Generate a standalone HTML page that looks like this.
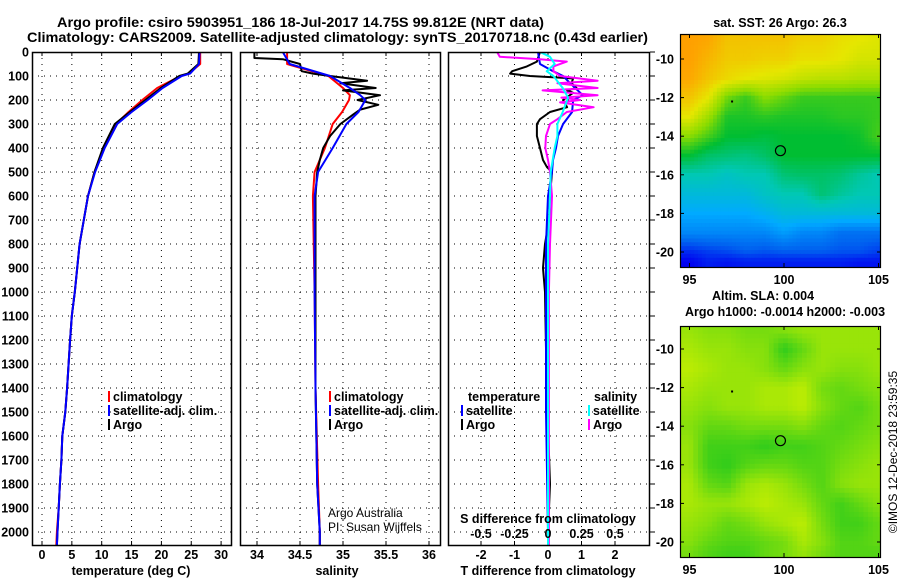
<!DOCTYPE html>
<html><head><meta charset="utf-8">
<style>
html,body{margin:0;padding:0;background:#fff;}
svg{display:block;font-family:"Liberation Sans",Arial,sans-serif;}
.b{font-weight:bold;font-size:12.5px;}
.t{font-weight:bold;font-size:13.5px;}
</style></head>
<body>
<svg id="c" width="900" height="580" viewBox="0 0 900 580" xmlns="http://www.w3.org/2000/svg">
<text class="t" x="57" y="27" textLength="487" lengthAdjust="spacingAndGlyphs">Argo profile: csiro 5903951_186 18-Jul-2017 14.75S 99.812E (NRT data)</text>
<text class="t" x="27" y="42" textLength="621" lengthAdjust="spacingAndGlyphs">Climatology: CARS2009. Satellite-adjusted climatology: synTS_20170718.nc (0.43d earlier)</text>
<g id="g"></g>
</svg>
<script>
// ---------- profile data (depth in m) ----------
const tDepth = [0,50,90,100,150,200,250,300,400,500,600,700,800,900,1000,1100,1200,1400,1500,1600,1700,1800,1900,2000,2055];
const tArgo  = [26.3,26.2,24.4,23,19.9,17.3,14.7,12.2,10.2,8.8,7.7,7.0,6.3,5.9,5.5,5.0,4.7,4.2,3.9,3.4,3.25,3.0,2.8,2.6,2.5];
const tClim  = [26.5,26.5,24.6,23.2,19.3,16.8,14.5,12.4,10.4,8.8,7.7,7.0,6.3,5.9,5.5,5.0,4.7,4.2,3.9,3.4,3.25,3.0,2.8,2.5,2.4];
const tSat   = [26.4,26.3,24.8,23.4,20.2,17.7,15.0,12.6,10.5,8.9,7.7,7.0,6.3,5.9,5.5,5.0,4.7,4.2,3.9,3.4,3.25,3.0,2.8,2.6,2.5];

const sArgoDepth = [0,25,30,50,80,90,100,120,130,150,160,180,200,220,240,260,300,350,400,450,500,600,800,1000,1400,1800,2000,2055];
const sArgo      = [33.97,33.97,34.3,34.5,34.52,34.65,34.85,35.28,34.97,35.38,35.0,35.43,35.17,35.41,35.2,35.12,34.97,34.85,34.77,34.73,34.7,34.68,34.68,34.68,34.68,34.7,34.73,34.73];
const sClimDepth = [0,50,100,150,180,200,250,300,400,500,600,1000,1400,1800,2000,2055];
const sClim      = [34.35,34.35,34.83,35.0,35.08,35.07,34.99,34.88,34.79,34.67,34.65,34.67,34.68,34.71,34.73,34.73];
const sSat       = [34.3,34.38,34.85,35.08,35.2,35.26,35.18,35.04,34.88,34.71,34.67,34.67,34.68,34.7,34.73,34.73];

const dTArgoDepth = [0,40,60,80,90,100,110,130,150,160,170,200,230,250,280,300,350,400,450,480,500,600,700,800,900,1000,1400,1800,2000,2055];
const dTArgo      = [-0.24,-0.33,-0.63,-1.07,-1.13,-0.54,0.75,0.7,0.85,0.57,0.75,0.45,0.57,0.06,-0.24,-0.33,-0.33,-0.24,-0.15,-0.03,0.12,0.06,0.03,-0.09,-0.15,-0.09,-0.04,0.06,0.0,0.0];
const dTSatDepth  = [0,50,80,100,130,180,200,250,300,350,400,450,500,600,800,1000,1500,2000,2055];
const dTSat       = [-0.3,-0.24,0.15,0.45,0.66,1.04,0.75,0.72,0.45,0.3,0.24,0.15,0.12,0.0,-0.06,-0.06,-0.06,0.0,0.0];
const dSArgoDepth = [0,20,30,40,60,80,100,120,130,150,160,180,190,200,210,230,250,280,300,350,400,450,500,600,800,1000,2055];
const dSArgo      = [-0.38,-0.36,-0.06,0.14,0.04,0.04,0.09,0.37,0.07,0.37,-0.04,0.37,0.1,0.24,0.09,0.34,0.14,0.07,0.015,-0.015,-0.02,0.0,0.015,0.03,0.015,0.007,0.007];
const dSSatDepth  = [0,20,50,80,100,150,190,250,300,350,400,500,600,800,2055];
const dSSat       = [-0.06,0.015,0.05,-0.01,0.04,0.11,0.15,0.11,0.07,0.07,0.05,0.02,0.015,0.0,0.0];

const depthTicks = [0,100,200,300,400,500,600,700,800,900,1000,1100,1200,1300,1400,1500,1600,1700,1800,1900,2000];
const tTicks = [0,5,10,15,20,25,30];
const sTicks = [34,34.5,35,35.5,36];
const dTTicks = [-2,-1,0,1,2];
const dSTicks = [-0.5,-0.25,0,0.25,0.5];
const dSTickLabels = ["-0.5","-0.25","0","0.25","0.5"];

// ---------- map data (coarse grids, lat rows -9..-20, -20.5; lon cols 95..105) ----------
const mapLats = [-9,-10,-11,-12,-13,-14,-15,-16,-17,-18,-19,-20,-20.5];
const mapLons = [95,96,97,98,99,100,101,102,103,104,105];
const sstGrid = [
[7,6.9,6.5,6.5,6.5,6.5,6.3,6.3,6.1,6,5.9],
[7,6.7,6.4,6.4,6.3,6.3,6.1,6.1,6,5.8,5.8],
[6.9,6.5,6.2,6,5.9,5.8,5.6,5.5,5.5,5.4,5.4],
[6.5,6,4.8,4.4,5,4.7,4.4,4.4,4.4,4.4,4.4],
[6,5.2,4.2,4.2,4.3,4.2,4.2,4.2,4.3,4.3,4.4],
[5,4.5,4,4,3.9,4,4,4,4,4.1,4.5],
[4,3.6,3.5,3.4,3.6,4,4,4,4,4,4],
[3,3,2.8,3,3,3.5,3.6,3.6,3.5,3.2,3],
[2.5,2.5,2.5,2.5,2.8,3,3,3.5,3.2,3,3],
[2,2,2,2,2.2,2.5,2.5,2.5,2.5,2.5,2.5],
[1.5,1.5,1.5,1.5,1.5,1.8,1.5,1.5,1.2,1.2,1.2],
[0.4,0.6,0.7,0.9,0.8,0.9,0.9,0.9,0.8,0.8,0.6],
[0,0.3,0.2,0.3,0.3,0.3,0.3,0.3,0.3,0.2,0.2]];
const slaGrid = [
[0.3,0.4,0.4,0.5,0.5,0.4,0.3,0.3,0.3,0.3,0.3],
[0.2,0.3,0.3,0.4,0.4,0.9,0.6,0.3,0.3,0.3,0.3],
[0.1,0.2,0.3,0.3,0.4,0.6,0.4,0.3,0.4,0.4,0.3],
[0.2,0.3,0.3,0.3,0.2,0.2,0.1,0.5,0.6,0.5,0.4],
[0.3,0.4,0.3,0.3,0.2,0.2,0.1,0.4,0.6,0.7,0.5],
[0.4,0.6,0.6,0.5,0.5,0.5,0.4,0.6,0.7,0.6,0.5],
[0.3,0.8,0.8,0.8,0.9,0.8,0.8,0.7,0.6,0.5,0.4],
[0.3,0.8,0.9,0.7,0.6,0.6,0.7,0.7,0.5,0.4,0.3],
[0.2,0.6,0.7,0.3,0.2,0.3,0.5,0.7,0.4,0.3,0.3],
[0.2,0.3,0.3,0.2,0.1,0.2,0.3,0.6,0.8,0.6,0.4],
[0.3,0.4,0.6,0.5,0.3,0.2,0.1,0.5,0.8,0.8,0.6],
[0.4,0.6,0.7,0.7,0.6,0.5,0.2,0.4,0.7,0.7,0.6],
[0.5,0.7,0.8,0.8,0.6,0.5,0.3,0.5,0.7,0.7,0.7]];
const latTicks = [-10,-12,-14,-16,-18,-20];
const lonTicks = [95,100,105];
const floatLon = 99.812, floatLat = -14.75;

const NS = "http://www.w3.org/2000/svg";
const G = document.getElementById('g');
function el(tag, attrs, parent){const e=document.createElementNS(NS,tag);for(const k in attrs)e.setAttribute(k,attrs[k]);(parent||G).appendChild(e);return e;}
function txt(s, attrs, parent){const e=el('text',attrs,parent);e.textContent=s;return e;}

// axes
const Y0=52, Y1=545;
const yD = d => Y0 + d*0.24;
const xT = v => 42 + v*5.97;
const xS = v => 257 + (v-34)*86;
const xdT = v => 548 + v*33.5;
const xdS = v => 548 + v*134;
const panels = [{x0:32,x1:231,name:'temperature-panel'},{x0:240,x1:440,name:'salinity-panel'},{x0:448,x1:649,name:'difference-panel'}];

const defs = el('defs',{});
panels.forEach((p,i)=>{const cp=el('clipPath',{id:'cp'+i},defs);el('rect',{x:p.x0,y:Y0,width:p.x1-p.x0,height:Y1-Y0},cp);});

depthTicks.forEach(d=>{
  const t=txt(String(d),{x:29,y:yD(d)+4.5,'text-anchor':'end',class:'b'});
  
  
});

function panelGrid(p, ticks, sc){
  const g=el('g',{});
  
  
  depthTicks.forEach(d=>{ if(d>0) el('line',{x1:p.x0,x2:p.x1,y1:yD(d),y2:yD(d),stroke:'#000','stroke-width':1,'stroke-dasharray':'1,5'},g); });
  ticks.forEach(v=>{ const x=sc(v); el('line',{x1:x,x2:x,y1:Y0,y2:Y1,stroke:'#000','stroke-width':1,'stroke-dasharray':'1,5'},g);
    el('line',{x1:x,x2:x,y1:Y0,y2:Y0+4,stroke:'#000'},g); el('line',{x1:x,x2:x,y1:Y1,y2:Y1-4,stroke:'#000'},g);});
}
function frame(p){
  const r=el('rect',{x:p.x0+0.5,y:Y0+0.5,width:p.x1-p.x0,height:Y1-Y0,fill:'none',stroke:'#000','stroke-width':1.5});
  
  
}
function line(depths, vals, sc, color, clip, name){
  const pts=depths.map((d,i)=>sc(vals[i]).toFixed(1)+','+yD(d).toFixed(1)).join(' ');
  const l=el('polyline',{points:pts,fill:'none',stroke:color,'stroke-width':2,'clip-path':'url(#cp'+clip+')','stroke-linejoin':'round'});
  
  
}
function xlabels(ticks, sc, labels, y){
  ticks.forEach((v,i)=>{const t=txt(labels?labels[i]:String(v),{x:sc(v),y:y,'text-anchor':'middle',class:'b'});
    
    });
}

panelGrid(panels[0], tTicks, xT);
line(tDepth,tClim,xT,'#f00',0,'temperature-climatology-line');
line(tDepth,tArgo,xT,'#000',0,'temperature-argo-line');
line(tDepth,tSat,xT,'#00f',0,'temperature-satellite-line');
frame(panels[0]);
xlabels(tTicks,xT,null,559);
panelGrid(panels[1], sTicks, xS);
line(sClimDepth,sClim,xS,'#f00',1,'salinity-climatology-line');
line(sArgoDepth,sArgo,xS,'#000',1,'salinity-argo-line');
line(sClimDepth,sSat,xS,'#00f',1,'salinity-satellite-line');
frame(panels[1]);
xlabels(sTicks,xS,null,559);
panelGrid(panels[2], dTTicks, xdT);
line(dTArgoDepth,dTArgo,xdT,'#000',2,'t-diff-argo-line');
line(dTSatDepth,dTSat,xdT,'#00f',2,'t-diff-satellite-line');
line(dSArgoDepth,dSArgo,xdS,'#f0f',2,'s-diff-argo-line');
line(dSSatDepth,dSSat,xdS,'#0ff',2,'s-diff-satellite-line');
frame(panels[2]);
depthTicks.forEach(d=>el('line',{x1:650,x2:655,y1:yD(d),y2:yD(d),stroke:'#000'}));
xlabels(dTTicks,xdT,null,559);
xlabels(dSTicks,xdS,dSTickLabels,538);

[['temperature (deg C)',131,'x-axis-title-temperature'],['salinity',337,'x-axis-title-salinity'],['T difference from climatology',548,'x-axis-title-t-diff']].forEach(a=>{
  const t=txt(a[0],{x:a[1],y:575,'text-anchor':'middle',class:'b'});
  
  
});
const sdt=txt('S difference from climatology',{x:548,y:523,'text-anchor':'middle',class:'b'});



function legend(x, y, color, label){
  const g=el('g',{});
  
  
  el('rect',{x:x,y:y-10,width:2,height:11,fill:color},g);
  txt(label,{x:x+5,y:y,class:'b'},g);
}
legend(108,401,'#f00','climatology');legend(108,415,'#00f','satellite-adj. clim.');legend(108,429,'#000','Argo');
legend(329,401,'#f00','climatology');legend(329,415,'#00f','satellite-adj. clim.');legend(329,429,'#000','Argo');
const lt=txt('temperature',{x:468,y:401,class:'b'});


const ls=txt('salinity',{x:594,y:401,class:'b'});


legend(461,415,'#00f','satellite');legend(461,429,'#000','Argo');
legend(588,415,'#0ff','satellite');legend(588,429,'#f0f','Argo');
const a1=txt('Argo Australia',{x:328,y:517,'font-size':'12px'});


const a2=txt('PI: Susan Wijffels',{x:328,y:531,'font-size':'12px'});



// ---------- maps ----------
const MX0=680, MX1=880;
const xLon = lon => 689.5 + (lon-95)*18.9;
function interp(grid, lat, lon){
  let r=0; while(r<mapLats.length-2 && lat<mapLats[r+1]) r++;
  let fr=(mapLats[r]-lat)/(mapLats[r]-mapLats[r+1]); fr=Math.max(0,Math.min(1,fr));
  let c=Math.floor(lon-95); c=Math.max(0,Math.min(mapLons.length-2,c));
  let fc=(lon-mapLons[c]); fc=Math.max(0,Math.min(1,fc));
  const a=grid[r][c]*(1-fc)+grid[r][c+1]*fc, b=grid[r+1][c]*(1-fc)+grid[r+1][c+1]*fc;
  return a*(1-fr)+b*fr;
}
const sstStops=[[0,0,240],[0,100,240],[0,170,255],[0,200,180],[0,190,50],[140,220,0],[230,230,0],[255,160,0]];
function sstColor(v){v=Math.max(0,Math.min(7,v));const i=Math.min(6,Math.floor(v)),f=v-i;const a=sstStops[i],b=sstStops[i+1];return 'rgb('+a.map((x,k)=>Math.round(x+(b[k]-x)*f)).join(',')+')';}
function slaColor(v){const a=[205,240,0],b=[30,200,30];return 'rgb('+a.map((x,k)=>Math.round(x+(b[k]-x)*v)).join(',')+')';}

function drawMap(Y0m, Y1m, yLat, grid, colorFn, name, step){
  const g=el('g',{});
  
  
  const latTop=-8.7, latBot=-20.8;
  for(let lat=latTop; lat>latBot; lat-=step){
    const y=yLat(lat), y2=yLat(lat-step);
    for(let lon=94.45; lon<105.1; lon+=step){
      const x=xLon(lon), x2=xLon(lon+step);
      const v=interp(grid, lat-step/2, lon+step/2);
      el('rect',{x:x.toFixed(1),y:y.toFixed(1),width:(x2-x+0.6).toFixed(1),height:(y2-y+0.6).toFixed(1),fill:colorFn(v)},g);
    }
  }
  const cp=el('clipPath',{id:'cp'+name},defs);el('rect',{x:MX0,y:Y0m,width:MX1-MX0,height:Y1m-Y0m},cp);
  g.setAttribute('clip-path','url(#cp'+name+')');
  el('circle',{cx:xLon(floatLon),cy:yLat(floatLat),r:5,fill:'none',stroke:'#000','stroke-width':1.2});
  el('rect',{x:xLon(97.2),y:yLat(-12.15),width:2,height:2,fill:'#000'});
  const fr=el('rect',{x:MX0+0.5,y:Y0m+0.5,width:MX1-MX0,height:Y1m-Y0m,fill:'none',stroke:'#000','stroke-width':1.2});
  
  
  latTicks.forEach(l=>{const y=yLat(l);
    el('line',{x1:MX0,x2:MX0+4,y1:y,y2:y,stroke:'#000'});el('line',{x1:MX1-3,x2:MX1+1,y1:y,y2:y,stroke:'#000'});
    const t=txt(String(l),{x:674,y:y+4.5,'text-anchor':'end',class:'b'});
    
    });
  lonTicks.forEach(l=>{const x=xLon(l);
    el('line',{x1:x,x2:x,y1:Y0m,y2:Y0m+4,stroke:'#000'});el('line',{x1:x,x2:x,y1:Y1m-4,y2:Y1m,stroke:'#000'});
    const t=txt(String(l),{x:x,y:Y1m+17,'text-anchor':'middle',class:'b'});
    
    });
}
drawMap(34,267,lat=>59+(-10-lat)*19.3,sstGrid,sstColor,'sst-map',0.2);
drawMap(326,557,lat=>349+(-10-lat)*19.3,slaGrid,slaColor,'sla-map',0.25);

[['sat. SST: 26 Argo: 26.3',780,27,'sst-map-title'],['Altim. SLA: 0.004',763,300,'sla-map-title'],['Argo h1000: -0.0014 h2000: -0.003',785,316,'sla-argo-title']].forEach(a=>{
  const t=txt(a[0],{x:a[1],y:a[2],'text-anchor':'middle',class:'b'});
  
  
});
const imos=txt('©IMOS 12-Dec-2018 23:59:35',{x:0,y:0,'text-anchor':'middle','font-size':'12px',transform:'translate(897,452) rotate(-90)'});


</script>
</body></html>
